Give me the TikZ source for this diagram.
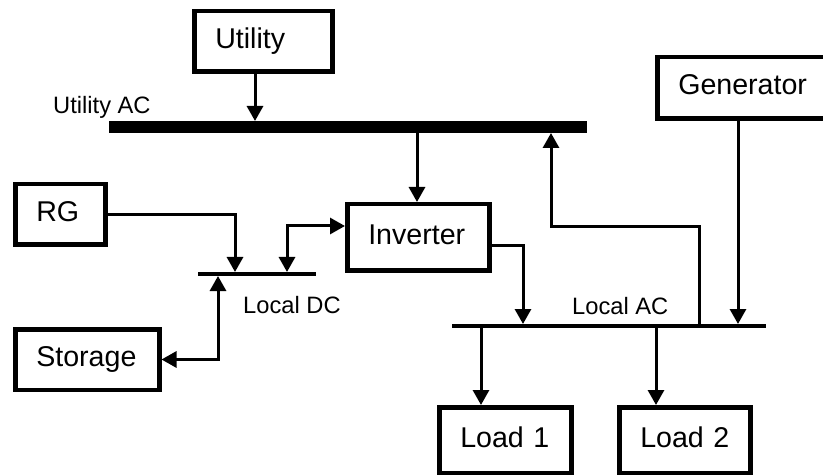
\documentclass[tikz,border=0pt]{standalone}
\usepackage{fontspec}
\setmainfont{Liberation Sans}
\usetikzlibrary{arrows.meta}
\tikzset{
  box/.style={draw, line width=4.5pt, anchor=north west, inner xsep=21pt, inner ysep=0pt,
    align=left, text height=20pt, text depth=6pt, font=\fontsize{28.6}{34}\selectfont},
  busbar/.style={fill=black, inner sep=0pt, outer sep=0pt, anchor=west},
  lbl/.style={inner sep=0pt, anchor=base west, font=\fontsize{23.7}{28}\selectfont},
  conn/.style={line width=3pt, -{Triangle[length=15pt,width=16pt]}},
  conn2/.style={line width=3pt, {Triangle[length=15pt,width=16pt]}-{Triangle[length=15pt,width=16pt]}}
}
\begin{document}
\begin{tikzpicture}[x=1pt,y=-1pt]
  \path[use as bounding box] (0,0) rectangle (823,476);
  \clip (0,0) rectangle (823,476);

  % equipment boxes (labels kept on one line)
  \node[box, text width=96pt,  minimum height=60.5pt] (util)  at (192,9)   {\mbox{Utility}};
  \node[box, text width=140pt, minimum height=61.5pt] (gen)   at (655,55)  {\mbox{Generator}};
  \node[box, text width=100pt, minimum height=66.5pt] (inv)   at (345,202) {\mbox{Inverter}};
  \node[box, text width=48pt,  minimum height=60.5pt] (rg)    at (13,182)  {\mbox{RG}};
  \node[box, text width=102pt, minimum height=60.5pt] (stor)  at (13,327)  {\mbox{Storage}};
  \node[box, text width=90pt,  minimum height=65.5pt] (load1) at (437,405) {\mbox{Load 1}};
  \node[box, text width=89pt,  minimum height=65.5pt] (load2) at (617,405) {\mbox{Load 2}};

  % bus bars
  \node[busbar, minimum width=478pt, minimum height=12pt] (uac) at (109,127) {};
  \node[busbar, minimum width=118pt, minimum height=4pt]  (ldc) at (198,274) {};
  \node[busbar, minimum width=314pt, minimum height=4pt]  (lac) at (452,326) {};

  % bus labels
  \node[lbl] (uacL) at (53,114)  {Utility AC};
  \node[lbl] (ldcL) at (243,313) {Local DC};
  \node[lbl] (lacL) at (572,314) {Local AC};

  % tap positions along the buses and elbow heights
  \coordinate (xU)   at (255,0);
  \coordinate (xI)   at (417,0);
  \coordinate (xRG)  at (235,0);
  \coordinate (xID)  at (287,0);
  \coordinate (xSD)  at (218,0);
  \coordinate (xIA)  at (523,0);
  \coordinate (xRet) at (551,0);
  \coordinate (xRB)  at (699,0);
  \coordinate (xG)   at (738,0);
  \coordinate (xL1)  at (481,0);
  \coordinate (xL2)  at (656,0);
  \coordinate (yID)  at (0,226);
  \coordinate (yIA)  at (0,246);
  \coordinate (yRet) at (0,227);

  % power flows
  \draw[conn]  (util.south -| xU) -- (uac.north -| xU);
  \draw[conn]  (uac.south -| xI) -- (inv.north -| xI);
  \draw[conn]  (rg.east) -| (ldc.north -| xRG);
  \draw[conn2] (ldc.north -| xID) |- (inv.west |- yID);
  \draw[conn2] (stor.east) -| (ldc.south -| xSD);
  \draw[conn]  (inv.east |- yIA) -| (lac.north -| xIA);
  \draw[conn]  (lac.north -| xRB) |- (xRet |- yRet) -- (uac.south -| xRet);
  \draw[conn]  (gen.south -| xG) -- (lac.north -| xG);
  \draw[conn]  (lac.south -| xL1) -- (load1.north -| xL1);
  \draw[conn]  (lac.south -| xL2) -- (load2.north -| xL2);
\end{tikzpicture}
\end{document}
